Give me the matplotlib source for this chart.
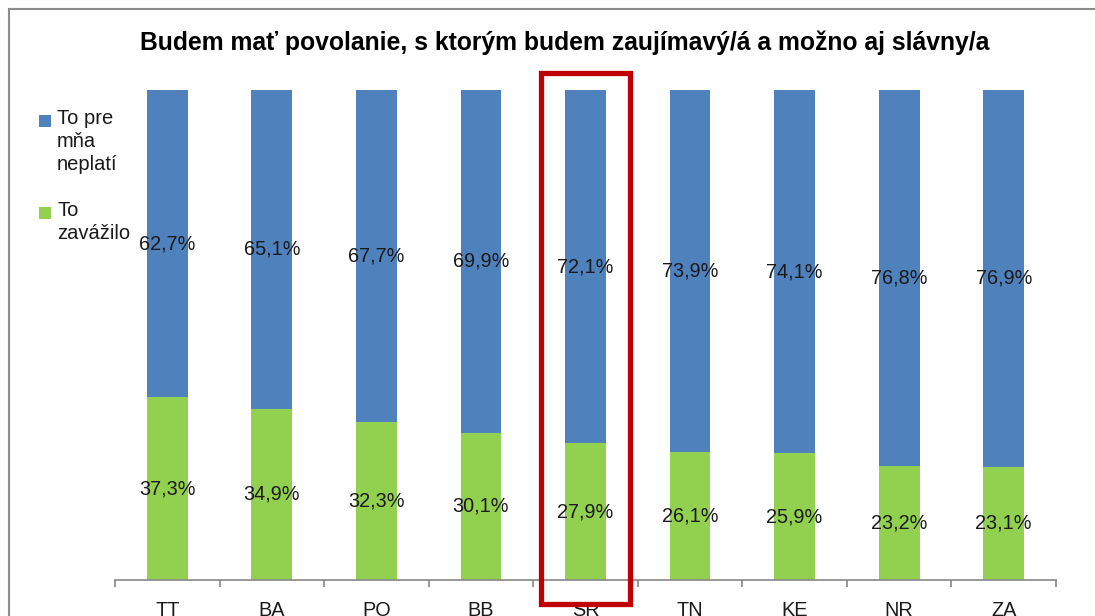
import numpy as np
import matplotlib
matplotlib.use("Agg")
import matplotlib.pyplot as plt
from matplotlib.patches import Rectangle
from matplotlib.lines import Line2D

plt.rcParams['font.family'] = ['Liberation Sans', 'DejaVu Sans']

#chart data
regions = ['TT', 'BA', 'PO', 'BB', 'SR', 'TN', 'KE', 'NR', 'ZA']
zavazilo = [37.3, 34.9, 32.3, 30.1, 27.9, 26.1, 25.9, 23.2, 23.1]
neplati = [62.7, 65.1, 67.7, 69.9, 72.1, 73.9, 74.1, 76.8, 76.9]
series_names = ['To pre\nmňa\nneplatí', 'To\nzavážilo']
highlight = 'SR'
title = 'Budem mať povolanie, s ktorým budem zaujímavý/á a možno aj slávny/a'

blue = '#4F81BD'
green = '#92D050'
W, H = 1095, 616

fig = plt.figure(figsize=(W / 100, H / 100), dpi=100)
fig.patch.set_facecolor('white')

#axes placed in pixel terms
ax = fig.add_axes([115 / W, (H - 580) / H, 941 / W, 490 / H])
x = np.arange(len(regions))
width = 0.39

ax.bar(x, zavazilo, width, color=green, zorder=2)
ax.bar(x, neplati, width, bottom=zavazilo, color=blue, zorder=2)

#data labels in middle of each segment
for i in range(len(regions)):
    ax.text(x[i], zavazilo[i] / 2, f"{zavazilo[i]:.1f}%".replace('.', ','),
            ha='center', va='center', fontsize=14.3, color='#1a1a1a', zorder=3)
    ax.text(x[i], zavazilo[i] + neplati[i] / 2, f"{neplati[i]:.1f}%".replace('.', ','),
            ha='center', va='center', fontsize=14.3, color='#1a1a1a', zorder=3)

ax.set_xlim(-0.5, len(regions) - 0.5)
ax.set_ylim(0, 100)
ax.set_yticks([])
for s in ['left', 'right', 'top']:
    ax.spines[s].set_visible(False)
ax.spines['bottom'].set_color('#868686')
ax.spines['bottom'].set_linewidth(1.2)

ax.set_xticks(x)
ax.set_xticklabels(regions, fontsize=14.3, color='#1a1a1a')
ax.tick_params(axis='x', which='major', length=0, pad=15)
ax.set_xticks(np.arange(-0.5, len(regions)), minor=True)
ax.tick_params(axis='x', which='minor', length=5, width=1.2, color='#868686', direction='out')
ax.set_facecolor('none')

#red box around the highlighted region
hi = regions.index(highlight)
ax.add_patch(Rectangle((x[hi] - 0.43, -4.9), 0.86, 108.4, fill=False,
                       edgecolor='#C00000', linewidth=3.8, clip_on=False, zorder=4))

#title
fig.text(565 / W, 1 - 43 / H, title, ha='center', va='center',
         fontsize=17.8, fontweight='bold', color='black')

#manual legend on the left
leg_y = [121, 213]
for name, col, yy in zip(series_names, [blue, green], leg_y):
    fig.add_artist(Rectangle((39 / W, 1 - (yy + 6) / H), 12 / W, 12 / H,
                             transform=fig.transFigure, facecolor=col, edgecolor='none'))
    fig.text(57 / W, 1 - (yy - 12) / H, name, ha='left', va='top',
             fontsize=14.5, color='#1a1a1a', linespacing=1.25)

#chart area frame (cropped on right/bottom)
fig.add_artist(Line2D([9 / W, 9 / W], [0, 1 - 9 / H], transform=fig.transFigure,
                      color='#8c8c8c', linewidth=1.5))
fig.add_artist(Line2D([9 / W, 1], [1 - 9 / H, 1 - 9 / H], transform=fig.transFigure,
                      color='#8c8c8c', linewidth=1.5))

fig.savefig('out.png', dpi=100)
